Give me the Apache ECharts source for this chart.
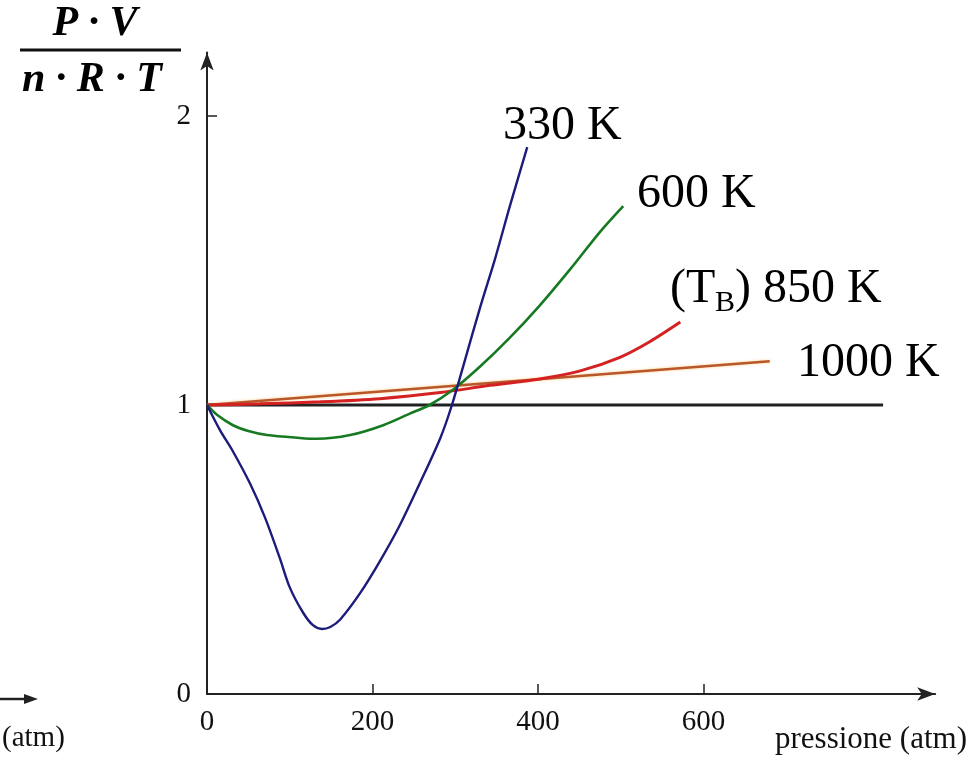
<!DOCTYPE html>
<html>
<head>
<meta charset="utf-8">
<script src="https://cdn.jsdelivr.net/npm/echarts@6/dist/echarts.min.js"></script>
<style>html,body{margin:0;padding:0;background:#fff;}#c{width:971px;height:757px;}</style>
</head>
<body>
<div id="c"></div>
<script>
// ---- data (pressure in atm, Z = PV/nRT) ----
const xTicks = [0, 200, 400, 600];
const yTicks = [0, 1, 2];

const p330 = [0, 15.7, 31.4, 52, 70, 88, 100, 116, 128, 139, 149, 161, 185, 209, 233, 257, 282, 296, 312, 330, 348, 366, 387];
const z330 = [1, 0.913, 0.839, 0.728, 0.611, 0.470, 0.369, 0.282, 0.238, 0.225, 0.232, 0.258, 0.349, 0.460, 0.584, 0.728, 0.886, 1.0, 1.158, 1.337, 1.505, 1.688, 1.892];

const p600 = [0, 12, 31.4, 50, 72.5, 112, 133, 173, 213, 245, 269, 296, 330, 366, 402, 439, 475, 503];
const z600 = [1, 0.966, 0.930, 0.910, 0.896, 0.886, 0.883, 0.896, 0.930, 0.970, 1.0, 1.050, 1.133, 1.233, 1.344, 1.470, 1.599, 1.688];

const p850 = [0, 64, 137, 209, 282, 342, 402, 451, 499, 535, 572];
const z850 = [1, 1.004, 1.011, 1.022, 1.043, 1.068, 1.090, 1.118, 1.165, 1.219, 1.287];

const p1000 = [0, 680];
const z1000 = [1, 1.151];

const pIdeal = [0, 817];
const zIdeal = [1, 1];

const seriesNames = ['330 K', '600 K', '850 K', '1000 K'];

const zip = (xs, ys) => xs.map((x, i) => [x, ys[i]]);
const SERIF = '"Liberation Serif", "Times New Roman", serif';

const chart = echarts.init(document.getElementById('c'), null, {renderer: 'canvas'});

const option = {
  backgroundColor: '#ffffff',
  animation: false,
  grid: {left: 207, top: 52.4, width: 728.2, height: 641.6, containLabel: false},
  xAxis: {
    type: 'value', min: 0, max: 880,
    axisLine: {show: true, onZero: false, symbol: ['none', 'arrow'], symbolSize: [10, 18], lineStyle: {color: '#222', width: 2}},
    axisTick: {show: true, inside: true, length: 10, customValues: xTicks, lineStyle: {color: '#222', width: 1.5}},
    axisLabel: {customValues: xTicks, margin: 14, color: '#111', fontFamily: SERIF, fontSize: 29},
    splitLine: {show: false}
  },
  yAxis: {
    type: 'value', min: 0, max: 2.22,
    axisLine: {show: true, onZero: false, symbol: ['none', 'arrow'], symbolSize: [10, 18], lineStyle: {color: '#222', width: 2}},
    axisTick: {show: true, inside: true, length: 10, customValues: yTicks, lineStyle: {color: '#222', width: 1.5}},
    axisLabel: {customValues: yTicks, margin: 16, color: '#111', fontFamily: SERIF, fontSize: 29},
    splitLine: {show: false}
  },
  series: [
    {type: 'line', name: 'ideal', data: zip(pIdeal, zIdeal), showSymbol: false, lineStyle: {color: '#222', width: 3}, z: 1},
    {type: 'line', name: seriesNames[3], data: zip(p1000, z1000), showSymbol: false, lineStyle: {color: '#b8582a', width: 2.5, shadowColor: 'rgba(255,170,60,0.6)', shadowBlur: 3}, z: 2},
    {type: 'line', name: seriesNames[2], data: zip(p850, z850), smooth: 0.3, showSymbol: false, lineStyle: {color: '#d42222', width: 3}, z: 3},
    {type: 'line', name: seriesNames[1], data: zip(p600, z600), smooth: 0.3, showSymbol: false, lineStyle: {color: '#177a22', width: 2.6}, z: 4},
    {type: 'line', name: seriesNames[0], data: zip(p330, z330), smooth: 0.3, showSymbol: false, lineStyle: {color: '#1c1c7a', width: 2.4}, z: 5}
  ],
  graphic: [
    // y axis title: fraction PV / nRT
    {type: 'text', x: 95, y: 24, style: {text: 'P · V', fontFamily: SERIF, fontSize: 42, fontWeight: 'bold', fontStyle: 'italic', fill: '#000', align: 'center', verticalAlign: 'middle'}},
    {type: 'line', shape: {x1: 20, y1: 50, x2: 181, y2: 50}, style: {stroke: '#111', lineWidth: 3}},
    {type: 'text', x: 92, y: 80, style: {text: 'n · R · T', fontFamily: SERIF, fontSize: 42, fontWeight: 'bold', fontStyle: 'italic', fill: '#000', align: 'center', verticalAlign: 'middle'}},
    // x axis title
    {type: 'text', x: 967, y: 740, style: {text: 'pressione (atm)', fontFamily: SERIF, fontSize: 31, fill: '#111', align: 'right', verticalAlign: 'middle'}},
    // leftover fragment at bottom-left
    {type: 'line', shape: {x1: 0, y1: 699, x2: 30, y2: 699}, style: {stroke: '#222', lineWidth: 2.5}},
    {type: 'polygon', shape: {points: [[24, 694], [38, 699], [24, 704]]}, style: {fill: '#222'}},
    {type: 'text', x: 2, y: 738, style: {text: '(atm)', fontFamily: SERIF, fontSize: 29, fill: '#111', align: 'left', verticalAlign: 'middle'}},
    // curve labels
    {type: 'text', x: 503, y: 126, style: {text: seriesNames[0], fontFamily: SERIF, fontSize: 48, fill: '#000', align: 'left', verticalAlign: 'middle'}},
    {type: 'text', x: 637, y: 194, style: {text: seriesNames[1], fontFamily: SERIF, fontSize: 48, fill: '#000', align: 'left', verticalAlign: 'middle'}},
    {type: 'text', x: 670, y: 289, style: {text: '(T', fontFamily: SERIF, fontSize: 48, fill: '#000', align: 'left', verticalAlign: 'middle'}},
    {type: 'text', x: 715, y: 303, style: {text: 'B', fontFamily: SERIF, fontSize: 30, fill: '#000', align: 'left', verticalAlign: 'middle'}},
    {type: 'text', x: 735, y: 289, style: {text: ') ' + seriesNames[2], fontFamily: SERIF, fontSize: 48, fill: '#000', align: 'left', verticalAlign: 'middle'}},
    {type: 'text', x: 797, y: 363, style: {text: seriesNames[3], fontFamily: SERIF, fontSize: 48, fill: '#000', align: 'left', verticalAlign: 'middle'}}
  ]
};
chart.setOption(option);
</script>
</body>
</html>
